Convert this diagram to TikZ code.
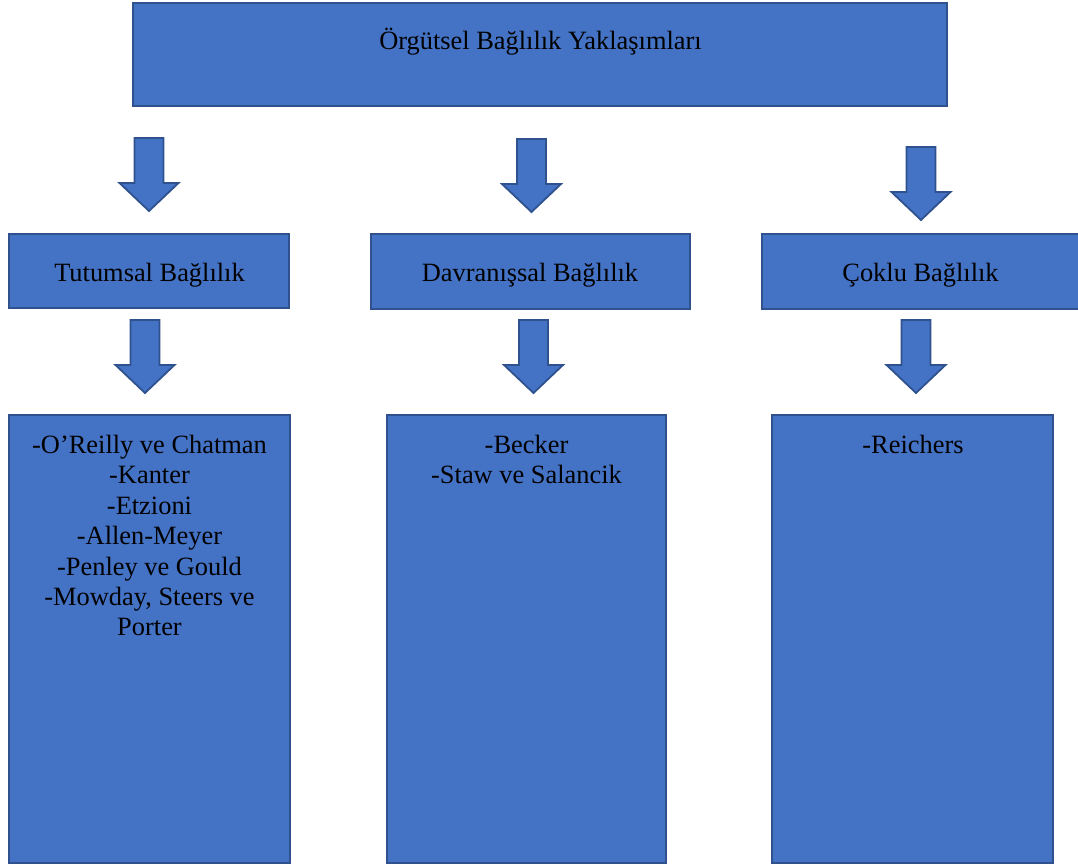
\documentclass[tikz,border=0pt]{standalone}
\usepackage{fontspec}
\setmainfont{Liberation Serif}
\definecolor{boxfill}{HTML}{4472C4}
\definecolor{boxline}{HTML}{2F528F}
\tikzset{
  box/.style={draw=boxline, fill=boxfill, line width=2pt, rectangle, inner sep=0pt},
  lbl/.style={font=\fontsize{26.4}{30.4}\selectfont, text=black, inner sep=0pt, align=center, anchor=base},
  lbltop/.style={lbl, anchor=north},
  blockarrow/.pic={
    \draw[draw=boxline, fill=boxfill, line width=1.8pt, line join=miter]
      (-14.5,0) -- (14.5,0) -- (14.5,45) -- (29.5,45) -- (0,73) -- (-29.5,45) -- (-14.5,45) -- cycle;
  }
}
\begin{document}
\begin{tikzpicture}[x=1pt,y=-1pt]
\useasboundingbox (0,0) rectangle (1078,865);
\clip (0,0) rectangle (1078,865);
% top box
\node[box, minimum width=814pt, minimum height=103pt] (top) at (540,54.5) {};
\node[lbl] (toptxt) at (540.5,49) {Örgütsel Bağlılık Yaklaşımları};
% arrows row 1
\pic at (149,138) {blockarrow};
\pic at (531.5,139) {blockarrow};
\pic at (921,147) {blockarrow};
% row 2 boxes
\node[box, minimum width=280pt, minimum height=74pt] (tut) at (149,271) {};
\node[box, minimum width=319pt, minimum height=75pt] (dav) at (530.5,271) {};
\node[box, minimum width=318pt, minimum height=75pt] (cok) at (921,271.5) {};
\node[lbl] (tuttxt) at (149.5,281) {Tutumsal Bağlılık};
\node[lbl] (davtxt) at (530,281) {Davranışsal Bağlılık};
\node[lbl] (coktxt) at (920.5,281) {Çoklu Bağlılık};
% arrows row 2
\pic at (145,320) {blockarrow};
\pic at (533.5,320) {blockarrow};
\pic at (916,320) {blockarrow};
% row 3 boxes
\node[box, minimum width=281pt, minimum height=448pt] (tutl) at (149.5,639) {};
\node[box, minimum width=279pt, minimum height=448pt] (davl) at (526.5,639) {};
\node[box, minimum width=281pt, minimum height=448pt] (cokl) at (912.5,639) {};
\node[lbltop] (tutltxt) at (149.5,435) {-O’Reilly ve Chatman\\-Kanter\\-Etzioni\\-Allen-Meyer\\-Penley ve Gould\\-Mowday, Steers ve\\Porter};
\node[lbltop] (davltxt) at (526.5,435) {-Becker\\-Staw ve Salancik};
\node[lbltop] (cokltxt) at (913,435) {-Reichers};
\end{tikzpicture}
\end{document}
